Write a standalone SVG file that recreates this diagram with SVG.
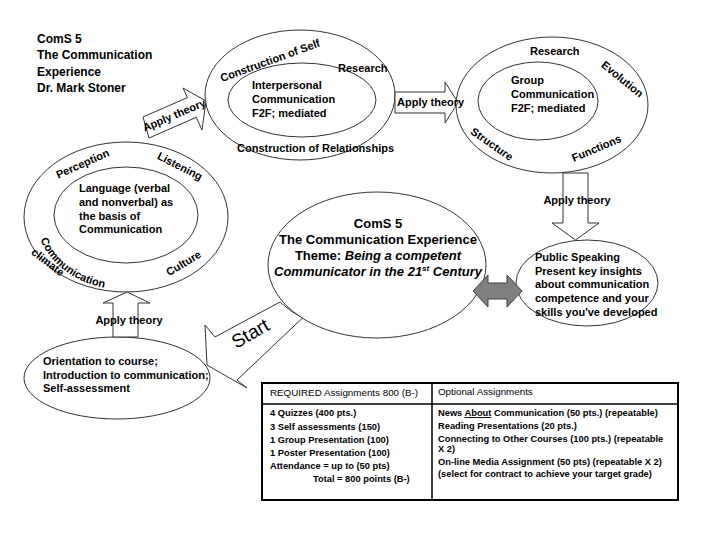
<svg xmlns="http://www.w3.org/2000/svg" width="720" height="540" viewBox="0 0 720 540">
<style>
.ln{fill:none;stroke:#333;stroke-width:1}
.wf{fill:#fff;stroke:#333;stroke-width:1}
.t{font-family:"Liberation Sans",Arial,sans-serif;font-weight:bold;font-size:11px;fill:#000}
.t12{font-family:"Liberation Sans",Arial,sans-serif;font-weight:bold;font-size:12px;fill:#000}
.t13{font-family:"Liberation Sans",Arial,sans-serif;font-weight:bold;font-size:13px;fill:#000}
.th{font-family:"Liberation Sans",Arial,sans-serif;font-size:9.8px;fill:#000}
.tr{font-family:"Liberation Sans",Arial,sans-serif;font-weight:bold;font-size:9.3px;fill:#000}
.arr{fill:#fff;stroke:#333;stroke-width:1}
.st{font-family:"Liberation Sans",Arial,sans-serif;font-size:19px;fill:#000}
</style>
<defs>
<path id="pcomm" d="M40.4,239.6 A90,73 0 0 0 118.2,289.7"/>
</defs>

<g id="title">
<text class="t12" x="37" y="43">ComS 5</text>
<text class="t12" x="37" y="59.3">The Communication</text>
<text class="t12" x="37" y="75.6">Experience</text>
<text class="t12" x="37" y="92">Dr. Mark Stoner</text>
</g>

<g id="node-language">
<ellipse class="ln" cx="126" cy="217" rx="102" ry="75"/>
<ellipse class="ln" cx="126" cy="215" rx="72" ry="48"/>
<text class="t" x="79" y="192">Language (verbal</text>
<text class="t" x="79" y="206">and nonverbal) as</text>
<text class="t" x="79" y="220">the basis of</text>
<text class="t" x="79" y="233">Communication</text>
<text class="t" text-anchor="middle" transform="translate(82.5,163.5) rotate(-24)" y="4">Perception</text>
<text class="t" text-anchor="middle" transform="translate(180,166) rotate(27)" y="4">Listening</text>
<text class="t" text-anchor="middle" transform="translate(183.5,263) rotate(-31)" y="4">Culture</text>
<text class="t"><textPath href="#pcomm">Communication</textPath></text>
<text class="t" text-anchor="middle" transform="translate(48,262) rotate(38)" y="4">climate</text>
</g>

<g id="node-interpersonal">
<ellipse class="ln" cx="300" cy="95" rx="95" ry="65"/>
<ellipse class="ln" cx="302" cy="100" rx="74" ry="37"/>
<text class="t" x="252" y="89">Interpersonal</text>
<text class="t" x="252" y="103">Communication</text>
<text class="t" x="252" y="117">F2F; mediated</text>
<text class="t" x="338" y="72">Research</text>
<text class="t" transform="translate(222,82) rotate(-20)">Construction of Self</text>
<text class="t" x="237" y="152">Construction of Relationships</text>
</g>

<g id="node-group">
<ellipse class="ln" cx="552" cy="105" rx="96" ry="68"/>
<ellipse class="ln" cx="538" cy="101" rx="60" ry="39"/>
<text class="t" x="511" y="84">Group</text>
<text class="t" x="511" y="98">Communication</text>
<text class="t" x="511" y="112">F2F; mediated</text>
<text class="t" x="530" y="55">Research</text>
<text class="t" text-anchor="middle" transform="translate(622.5,79) rotate(39)" y="4">Evolution</text>
<text class="t" text-anchor="middle" transform="translate(492,144) rotate(35)" y="4">Structure</text>
<text class="t" text-anchor="middle" transform="translate(596.5,148) rotate(-23)" y="4">Functions</text>
</g>

<g id="node-center">
<ellipse class="wf" cx="377" cy="265" rx="109" ry="73"/>
<text class="t13" x="378" y="228" text-anchor="middle">ComS 5</text>
<text class="t13" x="378" y="244" text-anchor="middle">The Communication Experience</text>
<text class="t13" x="378" y="260" text-anchor="middle">Theme: <tspan font-style="italic">Being a competent</tspan></text>
<text class="t13" x="378" y="276" text-anchor="middle" font-style="italic">Communicator in the 21<tspan font-size="8" dy="-5">st</tspan><tspan dy="5"> Century</tspan></text>
</g>

<g id="node-public">
<ellipse class="ln" cx="587" cy="283" rx="71" ry="43"/>
<text class="t" x="535" y="261">Public Speaking</text>
<text class="t" x="535" y="275">Present key insights</text>
<text class="t" x="535" y="288">about communication</text>
<text class="t" x="535" y="302">competence and your</text>
<text class="t" x="535" y="316">skills you've developed</text>
</g>

<g id="node-orientation">
<ellipse class="ln" cx="117" cy="378" rx="93" ry="41"/>
<text class="t" x="43" y="365">Orientation to course;</text>
<text class="t" x="43" y="379">Introduction to communication;</text>
<text class="t" x="43" y="392">Self-assessment</text>
</g>

<g id="node-assignments">
<rect x="262" y="383" width="416" height="117" fill="#fff" stroke="#000" stroke-width="2"/>
<line x1="262" y1="404" x2="678" y2="404" stroke="#000" stroke-width="1.5"/>
<line x1="432" y1="383" x2="432" y2="500" stroke="#000" stroke-width="1.5"/>
<text class="th" x="270" y="396">REQUIRED Assignments 800 (B-)</text>
<text class="tr" x="270" y="416">4 Quizzes (400 pts.)</text>
<text class="tr" x="270" y="429.5">3 Self assessments (150)</text>
<text class="tr" x="270" y="443">1 Group Presentation (100)</text>
<text class="tr" x="270" y="456">1 Poster Presentation (100)</text>
<text class="tr" x="270" y="469">Attendance = up to (50 pts)</text>
<text class="tr" x="313" y="482">Total = 800 points (B-)</text>
<text class="th" x="438" y="395">Optional Assignments</text>
<text class="tr" x="438" y="416">News <tspan text-decoration="underline">About</tspan> Communication (50 pts.) (repeatable)</text>
<text class="tr" x="438" y="429">Reading Presentations (20 pts.)</text>
<text class="tr" x="438" y="442">Connecting to Other Courses (100 pts.) (repeatable</text>
<text class="tr" x="438" y="452">X 2)</text>
<text class="tr" x="438" y="465">On-line Media Assignment (50 pts) (repeatable X 2)</text>
<text class="tr" x="438" y="477">(select for contract to achieve your target grade)</text>
</g>

<g id="connectors">
<polygon class="arr" points="143,117 187.4,97.6 183,88 206,101 202,130 196.3,117.3 149,138"/>
<text class="t" text-anchor="middle" transform="translate(174,115) rotate(-23)" y="4">Apply theory</text>
<polygon class="arr" points="395,92 445,92 445,82 458,102.5 445,123 445,113 395,113"/>
<text class="t" x="397" y="106">Apply theory</text>
<polygon class="arr" points="563,173 588,173 588,223 599,223 575.5,240 552,223 563,223"/>
<text class="t" x="577" y="204" text-anchor="middle">Apply theory</text>
<polygon class="arr" points="113,337 113,303 103,303 127,292 150,303 138,303 138,337"/>
<text class="t" x="129" y="324" text-anchor="middle">Apply theory</text>
<path class="arr" d="M280,302 L215,337 L205,325 L207,365 L247,388 L237,380 L302.5,318 A109,73 0 0 1 280,302 Z"/>
<text class="st" text-anchor="middle" transform="translate(250,333) rotate(-30)" y="7">Start</text>
<polygon points="473,291 488,275 488,283 507,283 507,275 522,291 507,307 507,299 488,299 488,307" fill="#7f7f7f" stroke="#404040" stroke-width="1"/>
</g>
</svg>
